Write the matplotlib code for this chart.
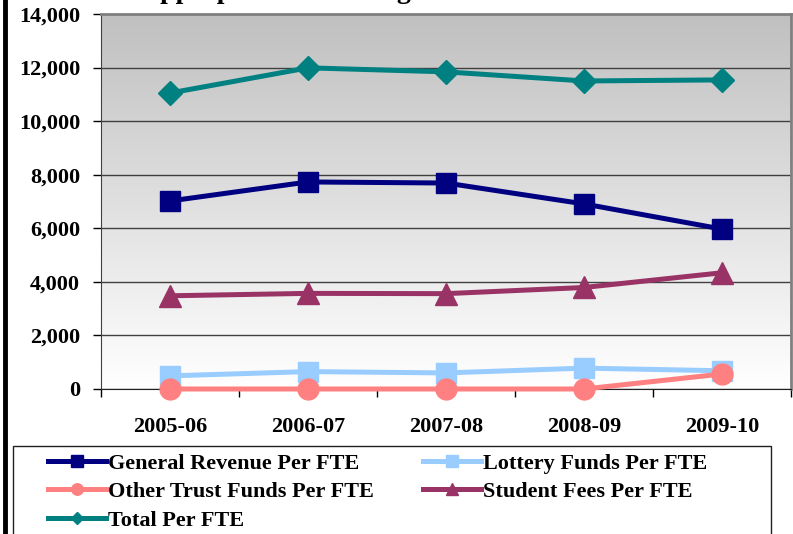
import numpy as np
import matplotlib
matplotlib.use("Agg")
import matplotlib.pyplot as plt
from matplotlib.lines import Line2D
from matplotlib.patches import Rectangle
from matplotlib.ticker import FuncFormatter

years = ["2005-06", "2006-07", "2007-08", "2008-09", "2009-10"]
general_revenue = [7020, 7730, 7690, 6910, 5970]
lottery = [490, 650, 600, 780, 680]
other_trust = [0, 0, 0, 0, 560]
student_fees = [3480, 3570, 3560, 3790, 4340]
total = [11050, 11990, 11840, 11500, 11540]

plt.rcParams['font.family'] = ['Liberation Serif', 'DejaVu Serif']
plt.rcParams['font.weight'] = 'bold'

W, H = 793, 534
fig = plt.figure(figsize=(W / 100, H / 100), dpi=100)
ax = fig.add_axes([101 / W, 1 - 389 / H, 690 / W, 375 / H])

# gradient background: gray at top, white at bottom
grad = np.linspace(0, 1, 256).reshape(-1, 1)
ax.imshow(grad, extent=[0, 1, 0, 1], transform=ax.transAxes, aspect='auto',
          cmap=matplotlib.colors.LinearSegmentedColormap.from_list('g', ['#ffffff', '#c0c0c0']),
          origin='lower', zorder=0)

x = np.arange(len(years))
lw = 3.6
ax.plot(x, general_revenue, '-s', color='#000080', lw=lw, ms=15, label='General Revenue Per FTE', zorder=5, clip_on=False)
ax.plot(x, lottery, '-s', color='#99ccff', lw=lw, ms=15, label='Lottery Funds Per FTE', zorder=4, clip_on=False)
ax.plot(x, other_trust, '-o', color='#ff8080', lw=lw, ms=15, label='Other Trust Funds Per FTE', zorder=5, clip_on=False)
ax.plot(x, student_fees, '-^', color='#993366', lw=lw, ms=16, label='Student Fees Per FTE', zorder=5, clip_on=False)
ax.plot(x, total, '-D', color='#008080', lw=lw, ms=12, label='Total Per FTE', zorder=5, clip_on=False)

ax.set_xlim(-0.5, 4.5)
ax.set_ylim(0, 14000)
ax.set_yticks(range(0, 14001, 2000))
ax.yaxis.set_major_formatter(FuncFormatter(lambda v, p: f"{int(v):,}"))
ax.set_xticks(x)
ax.set_xticklabels(years)
ax.set_xticks(np.arange(-0.5, 4.6, 1), minor=True)
ax.tick_params(axis='x', which='major', length=0, pad=20, labelsize=16)
ax.tick_params(axis='x', which='minor', length=6, width=1, direction='out')
ax.tick_params(axis='y', length=6, width=1, labelsize=16, pad=9)
ax.grid(axis='y', color='#404040', lw=1, zorder=1)
ax.set_axisbelow(True)
for s in ['top', 'right']:
    ax.spines[s].set_color('#808080')
    ax.spines[s].set_linewidth(2)
ax.spines['left'].set_color('#404040')
ax.spines['bottom'].set_color('#202020')

# title, mostly cut off by the top edge as in the source
fig.text(380 / W, 1 + 2.5 / H, "Appropriated Funding Per FTE Student", ha='center',
         va='baseline', fontsize=20)

# thick left border
fig.add_artist(Line2D([5 / W, 5 / W], [0, 1], color='black', lw=3.5))

# legend frame
fig.add_artist(Rectangle((13 / W, -0.05), 758 / W, 0.05 + 1 - 446 / H,
                         transform=fig.transFigure, fill=False, edgecolor='#202020', lw=1))

handles, labels = ax.get_legend_handles_labels()
order = [0, 2, 4, 1, 3]
leg = fig.legend([handles[i] for i in order], [labels[i] for i in order],
                 loc='upper left', bbox_to_anchor=(48 / W, 1 - 453 / H), ncol=2,
                 fontsize=16, frameon=False,
                 handlelength=2.6, handletextpad=0.1, columnspacing=2.2,
                 borderaxespad=0, borderpad=0, labelspacing=0.36, markerscale=0.55)

fig.savefig('out.png', dpi=100)
